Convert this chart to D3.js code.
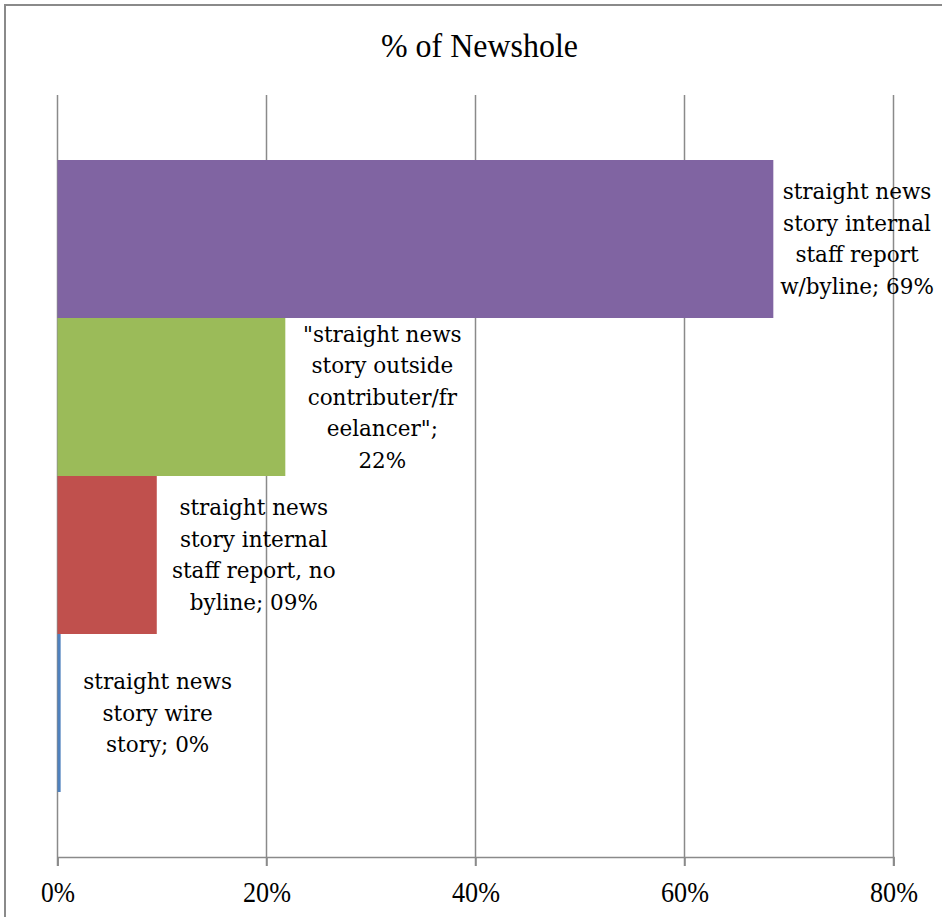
<!DOCTYPE html>
<html>
<head>
<meta charset="utf-8">
<script src="https://cdn.jsdelivr.net/npm/d3@7"></script>
<style>
  body { margin: 0; background: #fff; }
</style>
</head>
<body>
<div id="chart"></div>
<script>
// DATA - one category, four series (bottom to top like the excel chart)
var series_names = [
  "straight news story wire story",
  "straight news story internal staff report, no byline",
  "\"straight news story outside contributer/freelancer\"",
  "straight news story internal staff report w/byline"
];
var series_values = [0.3, 9.5, 21.8, 68.5];
var value_labels = ["0%", "09%", "22%", "69%"];
var label_lines = [
  ["straight news", "story wire", "story; 0%"],
  ["straight news", "story internal", "staff report, no", "byline; 09%"],
  ["\"straight news", "story outside", "contributer/fr", "eelancer\";", "22%"],
  ["straight news", "story internal", "staff report", "w/byline; 69%"]
];
var series_colors = ["#4F81BD", "#C0504D", "#9BBB59", "#8064A2"];
var x_ticks = [0, 20, 40, 60, 80];
var chart_title = "% of Newshole";

var width = 942;
var height = 917;
var plot_left = 57.5;
var plot_right = 893.5;
var plot_top = 95;
var plot_bottom = 857;
var grid_color = "#8a8a8a";

var svg = d3.select("#chart").append("svg")
  .attr("width", width)
  .attr("height", height);

// chart border (runs off the right/bottom edge in the reference)
svg.append("rect")
  .attr("x", 5)
  .attr("y", 5)
  .attr("width", width + 10)
  .attr("height", height + 10)
  .attr("fill", "none")
  .attr("stroke", grid_color)
  .attr("stroke-width", 2);

svg.append("text")
  .attr("x", 479.5)
  .attr("y", 57)
  .attr("text-anchor", "middle")
  .style("font-family", "'Liberation Serif', serif")
  .style("font-size", "34px")
  .attr("textLength", 197)
  .attr("lengthAdjust", "spacingAndGlyphs")
  .text(chart_title);

var x = d3.scaleLinear()
  .domain([0, 80])
  .range([plot_left, plot_right]);

var y = d3.scaleBand()
  .domain(d3.range(series_names.length))
  .range([plot_bottom - 65, plot_top + 65])
  .padding(0);

// gridlines
svg.append("g")
  .selectAll("line")
  .data(x_ticks)
  .enter().append("line")
    .attr("x1", function(d) { return x(d); })
    .attr("x2", function(d) { return x(d); })
    .attr("y1", plot_top)
    .attr("y2", plot_bottom + 9)
    .attr("stroke", grid_color)
    .attr("stroke-width", 1.5);

// bars
svg.append("g")
  .selectAll("rect")
  .data(series_values)
  .enter().append("rect")
    .attr("x", x(0))
    .attr("y", function(d, i) { return y(i); })
    .attr("width", function(d) { return x(d) - x(0); })
    .attr("height", y.bandwidth())
    .attr("fill", function(d, i) { return series_colors[i]; });

// x axis
var x_axis = d3.axisBottom(x)
  .tickValues(x_ticks)
  .tickSize(9)
  .tickFormat(function(d) { return d + "%"; });

var axis_g = svg.append("g")
  .attr("transform", "translate(0," + plot_bottom + ")")
  .call(x_axis);

axis_g.select(".domain").attr("stroke", grid_color).attr("stroke-width", 1.5);
axis_g.selectAll(".tick line").attr("stroke", grid_color).attr("stroke-width", 1.5);
axis_g.selectAll(".tick text")
  .style("font-family", "'Liberation Serif', serif")
  .style("font-size", "29px")
  .attr("fill", "#000")
  .attr("y", 24)
  .attr("dy", "0.71em")
  .each(function(d) {
    d3.select(this)
      .attr("textLength", String(d).length * 14 + 20)
      .attr("lengthAdjust", "spacingAndGlyphs");
  });

// data labels
var line_h = 31.5;
var labels = svg.append("g")
  .selectAll("text")
  .data(label_lines)
  .enter().append("text")
    .style("font-family", "'DejaVu Serif', serif")
    .style("font-size", "21.5px")
    .attr("fill", "#000")
    .attr("text-anchor", "middle")
    .attr("transform", function(lines, i) {
      var cx = Math.min(x(series_values[i]) + 97, 857);
      var cy = y(i) + y.bandwidth() / 2 - (lines.length - 1) * line_h / 2;
      return "translate(" + cx + "," + cy + ")";
    });

labels.selectAll("tspan")
  .data(function(lines) { return lines; })
  .enter().append("tspan")
    .attr("x", 0)
    .attr("y", function(l, j) { return j * line_h; })
    .attr("dy", "0.35em")
    .text(function(l) { return l; });
</script>
</body>
</html>
